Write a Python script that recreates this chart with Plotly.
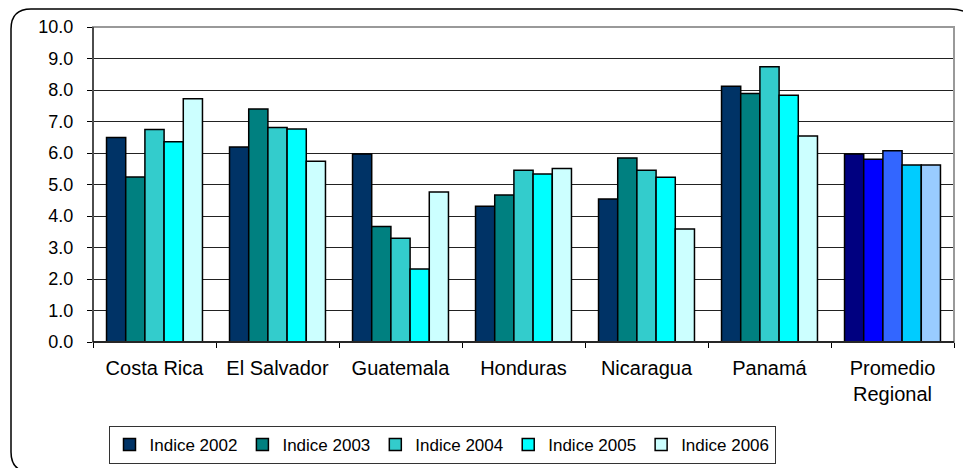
import plotly.graph_objects as go

paises = ['Costa Rica', 'El Salvador', 'Guatemala', 'Honduras', 'Nicaragua',
          'Panamá', 'Promedio<br>Regional']
series = ['Indice 2002', 'Indice 2003', 'Indice 2004', 'Indice 2005', 'Indice 2006']

indice_2002 = [6.49, 6.19, 5.97, 4.31, 4.54, 8.12, 5.97]
indice_2003 = [5.24, 7.40, 3.67, 4.67, 5.84, 7.89, 5.80]
indice_2004 = [6.75, 6.81, 3.29, 5.45, 5.45, 8.74, 6.07]
indice_2005 = [6.36, 6.76, 2.32, 5.33, 5.23, 7.83, 5.62]
indice_2006 = [7.72, 5.74, 4.76, 5.51, 3.59, 6.54, 5.62]

colores = ['#003366', '#008080', '#33CCCC', '#00FFFF', '#CCFFFF']
colores_promedio = ['#000080', '#0000FF', '#3366FF', '#00CCFF', '#99CCFF']

valores = [indice_2002, indice_2003, indice_2004, indice_2005, indice_2006]

W, H = 963, 468
L, R, T, B = 93, 9, 27, 126
PW, PH = W - L - R, H - T - B


def px(x):
    return (x - L) / PW


def py(y):
    return (H - B - y) / PH


fig = go.Figure()

for nombre, vals, col, colp in zip(series, valores, colores, colores_promedio):
    fig.add_trace(go.Bar(
        x=paises, y=vals, name=nombre,
        marker=dict(color=[col] * (len(paises) - 1) + [colp],
                    line=dict(color='black', width=1.5))))

# marco redondeado exterior
x0, y0, x1, y1, r = 11, 9, 978, 472, 28
path = (f'M{px(x0)},{py(y0 + 20)} Q{px(x0)},{py(y0)} {px(x0 + 20)},{py(y0)} '
        f'L{px(x1 - r)},{py(y0)} Q{px(x1)},{py(y0)} {px(x1)},{py(y0 + r)} '
        f'L{px(x1)},{py(y1 - r)} Q{px(x1)},{py(y1)} {px(x1 - r)},{py(y1)} '
        f'L{px(x0 + 20)},{py(y1)} Q{px(x0)},{py(y1)} {px(x0)},{py(y1 - 20)} Z')

fig.update_layout(
    width=W, height=H,
    margin=dict(l=L, r=R, t=T, b=B, autoexpand=False),
    paper_bgcolor='white', plot_bgcolor='white',
    font=dict(family='Liberation Sans, Arial, sans-serif', size=18, color='black'),
    barmode='group', bargap=0.22, bargroupgap=0,
    showlegend=True,
    legend=dict(orientation='h', x=px(442), xanchor='center', y=py(426), yanchor='top',
                bordercolor='#333333', borderwidth=1, itemwidth=30,
                font=dict(size=17), traceorder='normal'),
    xaxis=dict(showgrid=False, ticks='outside', tickson='boundaries', ticklen=5,
               tickcolor='black', showline=False, ticklabelstandoff=12,
               tickfont=dict(size=20)),
    yaxis=dict(range=[0, 10], dtick=1, tickformat='.1f', showgrid=True,
               gridcolor='#222222', gridwidth=1, ticks='outside', ticklen=5,
               tickcolor='black', showline=False, zeroline=False,
               ticklabelstandoff=10, tickfont=dict(size=18)),
    shapes=[
        dict(type='rect', xref='paper', yref='paper', x0=0, x1=1, y0=0, y1=1,
             line=dict(color='#999999', width=2), layer='above'),
        dict(type='line', xref='paper', yref='paper', x0=0, x1=0, y0=0, y1=1,
             line=dict(color='black', width=1), layer='above'),
        dict(type='line', xref='paper', yref='paper', x0=0, x1=1, y0=0, y1=0,
             line=dict(color='black', width=1.5), layer='above'),
        dict(type='path', xref='paper', yref='paper', path=path,
             line=dict(color='black', width=1.5), layer='above'),
    ],
)

fig.write_html('out.html', config={'displayModeBar': False},
               post_script="document.body.style.margin='0';")
